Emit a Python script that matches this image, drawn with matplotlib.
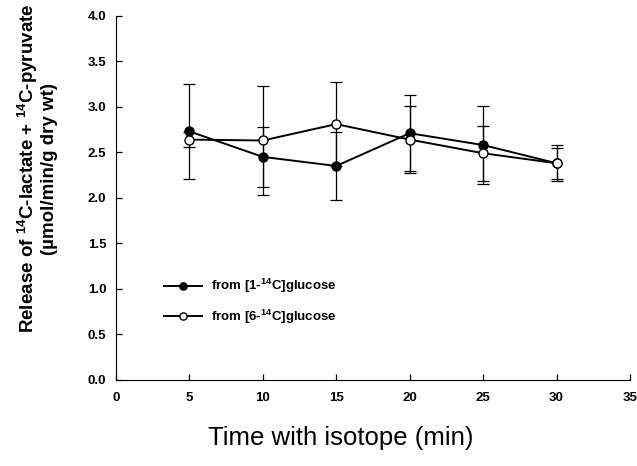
import numpy as np
import matplotlib.pyplot as plt

plt.rcParams['font.family'] = ['Liberation Sans', 'DejaVu Sans']
plt.rcParams['mathtext.fontset'] = 'custom'
plt.rcParams['mathtext.rm'] = 'Liberation Sans'
plt.rcParams['mathtext.bf'] = 'Liberation Sans:bold'

# data
time = [5, 10, 15, 20, 25, 30]
glc1 = [2.73, 2.45, 2.35, 2.71, 2.58, 2.38]
glc1_err = [0.52, 0.33, 0.37, 0.42, 0.43, 0.20]
glc6 = [2.64, 2.63, 2.81, 2.64, 2.49, 2.38]
glc6_err = [0.08, 0.60, 0.46, 0.37, 0.30, 0.17]

xticks = [0, 5, 10, 15, 20, 25, 30, 35]
yticks = [0.0, 0.5, 1.0, 1.5, 2.0, 2.5, 3.0, 3.5, 4.0]

fig = plt.figure(figsize=(6.37, 4.66), dpi=100)
ax = fig.add_axes([0.182, 0.185, 0.807, 0.781])

# error bars first, then lines+markers (legend uses only the lines)
ax.errorbar(time, glc1, yerr=glc1_err, fmt='none', ecolor='black',
            elinewidth=0.9, capsize=4, capthick=0.9, zorder=2)
ax.errorbar(time, glc6, yerr=glc6_err, fmt='none', ecolor='black',
            elinewidth=0.9, capsize=4, capthick=0.9, zorder=2)
ax.plot(time, glc1, color='black', marker='o', ms=6.5, mfc='black', mec='black',
        lw=1.4, label=r'from [1-$^{\mathbf{14}}$C]glucose', zorder=3)
ax.plot(time, glc6, color='black', marker='o', ms=6.5, mfc='white', mec='black',
        lw=1.4, label=r'from [6-$^{\mathbf{14}}$C]glucose', zorder=4)

ax.set_xlim(0, 35)
ax.set_ylim(0, 4.0)
ax.set_xticks(xticks)
ax.set_yticks(yticks)
ax.set_yticklabels([f'{v:.1f}' for v in yticks])
ax.tick_params(direction='in', length=4, width=0.9, labelsize=9.5)
ax.tick_params(axis='x', pad=9)
ax.tick_params(axis='y', pad=7)
for lab in ax.get_xticklabels() + ax.get_yticklabels():
    lab.set_fontweight('bold')
ax.spines['top'].set_visible(False)
ax.spines['right'].set_visible(False)

ax.set_xlabel('Time with isotope (min)', fontsize=18.5)
ax.xaxis.set_label_coords(0.438, -0.128)
ax.set_ylabel('Release of $^{\\mathbf{14}}$C-lactate + $^{\\mathbf{14}}$C-pyruvate\n'
              '(\u00b5mol/min/g dry wt)', fontsize=13.5, fontweight='bold',
              linespacing=1.1)
ax.yaxis.set_label_coords(-0.112, 0.58)

leg = ax.legend(loc='upper left', bbox_to_anchor=(0.07, 0.315), frameon=False,
                handlelength=2.9, handletextpad=0.65, fontsize=9.5,
                labelspacing=0.95, markerscale=0.8)
for t in leg.get_texts():
    t.set_fontweight('bold')

fig.savefig('out.png', dpi=100)
